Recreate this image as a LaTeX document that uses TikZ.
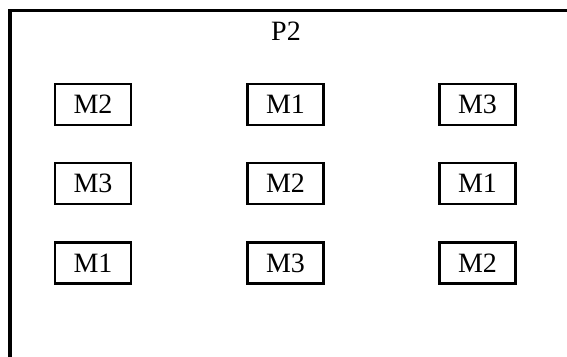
\documentclass[tikz,border=0pt]{standalone}
\usepackage{fontspec}
\setmainfont{Liberation Serif}
\begin{document}
\begin{tikzpicture}[x=1pt,y=-1pt,
  mbox/.style={draw=black, line width=2.6pt, minimum width=76pt, minimum height=41pt, inner sep=0pt, font=\fontsize{28}{30}\selectfont},
  frame/.style={draw=black, line width=3.6pt}]
\useasboundingbox (0,0) rectangle (567,356);
\coordinate (fb) at (10,360);
\coordinate (fc) at (10,10.5);
\coordinate (fr) at (570,10.5);
\draw[frame] (fb) -- (fc) -- (fr);
\node[font=\fontsize{28}{30}\selectfont, inner sep=0pt, anchor=base] (p2) at (286,40.5) {P2};
\node[mbox] (a1) at (93,104.5) {M2};
\node[mbox] (a2) at (285.5,104.5) {M1};
\node[mbox] (a3) at (477.5,104.5) {M3};
\node[mbox] (b1) at (93,183.5) {M3};
\node[mbox] (b2) at (285.5,183.5) {M2};
\node[mbox] (b3) at (477.5,183.5) {M1};
\node[mbox] (c1) at (93,263) {M1};
\node[mbox] (c2) at (285.5,263) {M3};
\node[mbox] (c3) at (477.5,263) {M2};
\end{tikzpicture}
\end{document}
